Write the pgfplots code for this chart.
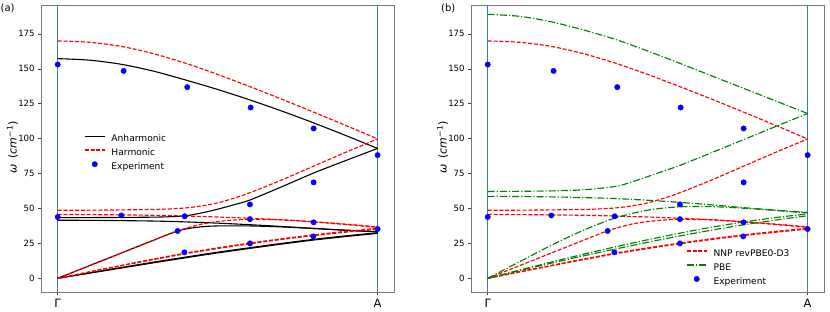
\documentclass[border=0pt]{standalone}
\usepackage{fontspec}
\setmainfont{DejaVu Sans}
\usepackage{pgfplots}
\pgfplotsset{compat=1.18}

\definecolor{vblue}{RGB}{45,128,198}
\definecolor{mplgreen}{RGB}{0,128,0}
\definecolor{framec}{RGB}{120,120,120}

\pgfplotsset{
  common/.style={
    scale only axis, width=353.3pt, height=287.4pt,
    xmin=-0.0522, xmax=1.0522, ymin=-10.3, ymax=195.5,
    xtick={0,1}, xticklabels={Γ,A},
    ytick={0,25,50,75,100,125,150,175},
    tick align=outside, tick pos=left,
    major tick length=2.8pt,
    axis line style={framec, line width=0.8pt},
    every tick/.style={black!75, line width=0.6pt},
    yticklabel style={font=\fontsize{8.6}{10}\selectfont},
    xticklabel style={font=\fontsize{11.5}{13}\selectfont},
    /pgf/number format/assume math mode=true,
    legend style={draw=none, fill=none, inner sep=0pt, outer sep=0pt,
      font=\fontsize{9.1}{11}\selectfont, row sep=0pt,
      nodes={inner sep=0pt, text height=9.5pt, text depth=4.5pt},
      /tikz/every odd column/.append style={column sep=6pt}},
    legend cell align=left,
  },
  harm/.style={color=red, line width=1.15pt, dash pattern=on 4pt off 1.8pt, smooth},
  anh/.style={color=black, line width=1.1pt, smooth},
  pbe/.style={color=mplgreen, line width=1.15pt, dash pattern=on 7pt off 2pt on 1.2pt off 2pt, smooth},
  expt/.style={only marks, mark=*, mark size=2.7pt, color=blue, mark options={draw=blue, fill=blue}},
  vl/.style={color=vblue, line width=1.4pt},
  harmleg/.style={legend image code/.code={\draw[draw=red, line width=1.5pt, dash pattern=on 4pt off 1.8pt] (0pt,3pt) -- (20pt,3pt);}},
  anhleg/.style={legend image code/.code={\draw[draw=black, line width=1.3pt] (0pt,3pt) -- (20pt,3pt);}},
  pbeleg/.style={legend image code/.code={\draw[draw=mplgreen, line width=1.4pt, dash pattern=on 7pt off 2pt on 1.2pt off 2pt] (0pt,3pt) -- (20pt,3pt);}},
  exptleg/.style={legend image code/.code={\fill[blue] (10pt,3pt) circle[radius=2.7pt];}},
}

\pgfplotstableread{
x y
0 153.1
0 43.9
0.206 148.5
0.199 45.0
0.405 136.9
0.397 44.4
0.375 33.9
0.396 18.6
0.603 122.3
0.601 52.9
0.601 42.4
0.601 25.0
0.800 107.3
0.800 68.7
0.800 40.1
0.799 30.0
1.000 88.2
1.000 35.3
}\expdata

\begin{document}
\begin{tikzpicture}
\path[use as bounding box] (0pt,0pt) rectangle (830pt,312pt);

% ---------------- panel (a)
\begin{axis}[common, at={(41pt,19.3pt)}, anchor=south west,
  legend style={at={(0.1217,0.4853)}, anchor=west}]
\addplot[vl, forget plot] coordinates {(0,-20) (0,220)};
\addplot[vl, forget plot] coordinates {(1,-20) (1,220)};
% anharmonic
\addplot[anh, anhleg] coordinates {(0,157.3) (0.1,156.2) (0.2,153.2) (0.3,148.3) (0.4,142) (0.5,135.2) (0.6,127.8) (0.7,119.8) (0.8,111.3) (0.9,102.3) (1,93)};
\addlegendentry{Anharmonic}
\addplot[anh, forget plot] coordinates {(0,43.4) (0.1,43.5) (0.2,43.6) (0.3,43.8) (0.35,44.1) (0.4,44.8) (0.45,46.8) (0.5,49.5) (0.55,52.6) (0.6,56) (0.7,65.5) (0.8,75.4) (0.9,84.3) (1,93)};
\addplot[anh, forget plot] coordinates {(0,41.6) (0.1,41.5) (0.2,41.3) (0.3,41) (0.4,40.4) (0.5,39.5) (0.6,38.4) (0.7,37.1) (0.8,35.7) (0.9,34.4) (1,33.2)};
\addplot[anh, forget plot] coordinates {(0,0) (0.1,9.1) (0.2,18.2) (0.3,27.3) (0.36,32.7) (0.4,35.3) (0.45,36.9) (0.5,37.5) (0.6,37.5) (0.7,36.8) (0.8,35.7) (0.9,34.5) (1,33.4)};
\addplot[anh, forget plot] coordinates {(0,0) (0.1,3.9) (0.2,7.8) (0.3,11.6) (0.4,15.2) (0.5,18.7) (0.6,21.9) (0.7,25) (0.8,27.9) (0.9,30.4) (1,32.6)};
\addplot[anh, forget plot] coordinates {(0,0) (0.1,3.7) (0.2,7.4) (0.3,11.1) (0.4,14.7) (0.5,18.2) (0.6,21.4) (0.7,24.5) (0.8,27.4) (0.9,29.9) (1,32.2)};
% harmonic
\addplot[harm, harmleg] coordinates {(0,170) (0.1,169) (0.2,166) (0.3,160.8) (0.4,154) (0.5,146) (0.6,137.3) (0.7,128.3) (0.8,119) (0.9,109.5) (1,99.8)};
\addlegendentry{Harmonic}
\addplot[harm, forget plot] coordinates {(0,48.7) (0.1,48.8) (0.2,49) (0.3,49.3) (0.35,49.7) (0.4,50.4) (0.45,51.8) (0.5,54) (0.55,57.3) (0.6,61.2) (0.7,70.4) (0.8,80.3) (0.9,90.2) (1,99.8)};
\addplot[harm, forget plot] coordinates {(0,45.7) (0.1,45.6) (0.2,45.4) (0.3,45.1) (0.4,44.6) (0.5,43.9) (0.6,43) (0.7,41.9) (0.8,40.5) (0.9,38.8) (1,36.8)};
\addplot[harm, forget plot] coordinates {(0,0) (0.1,9.1) (0.2,18.2) (0.3,27.3) (0.36,32.8) (0.4,35.8) (0.45,38.8) (0.5,40.6) (0.55,41.7) (0.6,42.2) (0.7,41.9) (0.8,40.4) (0.9,38.5) (1,36.5)};
\addplot[harm, forget plot] coordinates {(0,0) (0.1,4.7) (0.2,9.3) (0.3,13.8) (0.4,18.1) (0.5,21.8) (0.6,25.2) (0.7,28.3) (0.8,31.1) (0.9,33.6) (1,35.8)};
\addplot[harm, forget plot] coordinates {(0,0) (0.1,4.5) (0.2,9) (0.3,13.4) (0.4,17.6) (0.5,21.3) (0.6,24.7) (0.7,27.8) (0.8,30.6) (0.9,33) (1,35.2)};
\addplot[expt, exptleg] table[x=x,y=y] {\expdata};
\addlegendentry{Experiment}
\end{axis}

% ---------------- panel (b)
\begin{axis}[common, at={(471pt,19.3pt)}, anchor=south west,
  legend style={at={(0.6086,0.086)}, anchor=west}]
\addplot[vl, forget plot] coordinates {(0,-20) (0,220)};
\addplot[vl, forget plot] coordinates {(1,-20) (1,220)};
% NNP
\addplot[harm, harmleg] coordinates {(0,170) (0.1,169) (0.2,166) (0.3,160.8) (0.4,154) (0.5,146) (0.6,137.3) (0.7,128.3) (0.8,119) (0.9,109.5) (1,99.8)};
\addlegendentry{NNP revPBE0-D3}
\addplot[harm, forget plot] coordinates {(0,48.7) (0.1,48.8) (0.2,49) (0.3,49.3) (0.35,49.7) (0.4,50.4) (0.45,51.8) (0.5,54) (0.55,57.3) (0.6,61.2) (0.7,70.4) (0.8,80.3) (0.9,90.2) (1,99.8)};
\addplot[harm, forget plot] coordinates {(0,45.7) (0.1,45.6) (0.2,45.4) (0.3,45.1) (0.4,44.6) (0.5,43.9) (0.6,43) (0.7,41.9) (0.8,40.5) (0.9,38.8) (1,36.8)};
\addplot[harm, forget plot] coordinates {(0,0) (0.1,9.1) (0.2,18.2) (0.3,27.3) (0.36,32.8) (0.4,35.8) (0.45,38.8) (0.5,40.6) (0.55,41.7) (0.6,42.2) (0.7,41.9) (0.8,40.4) (0.9,38.5) (1,36.5)};
\addplot[harm, forget plot] coordinates {(0,0) (0.1,4.7) (0.2,9.3) (0.3,13.8) (0.4,18.1) (0.5,21.8) (0.6,25.2) (0.7,28.3) (0.8,31.1) (0.9,33.6) (1,35.8)};
\addplot[harm, forget plot] coordinates {(0,0) (0.1,4.5) (0.2,9) (0.3,13.4) (0.4,17.6) (0.5,21.3) (0.6,24.7) (0.7,27.8) (0.8,30.6) (0.9,33) (1,35.2)};
% PBE
\addplot[pbe, pbeleg] coordinates {(0,189) (0.1,187.6) (0.2,183.6) (0.3,177.8) (0.4,171) (0.5,162.8) (0.6,154) (0.7,145) (0.8,136) (0.9,127) (1,118)};
\addlegendentry{PBE}
\addplot[pbe, forget plot] coordinates {(0,62.2) (0.1,62.3) (0.2,62.6) (0.3,63.4) (0.4,65.8) (0.45,69) (0.5,72.8) (0.55,76.8) (0.6,80.8) (0.7,90) (0.8,99.3) (0.9,108.7) (1,118)};
\addplot[pbe, forget plot] coordinates {(0,58.7) (0.1,58.6) (0.2,58.3) (0.3,57.8) (0.4,57.1) (0.5,55.9) (0.6,54.4) (0.7,52.6) (0.8,50.6) (0.9,48.8) (1,47.2)};
\addplot[pbe, forget plot] coordinates {(0,0) (0.1,11.9) (0.2,23.8) (0.3,34.5) (0.4,43.3) (0.5,48.8) (0.6,51.2) (0.7,51.3) (0.8,50.2) (0.9,48.6) (1,46.8)};
\addplot[pbe, forget plot] coordinates {(0,0) (0.1,5.9) (0.2,11.7) (0.3,17.3) (0.4,22.6) (0.5,27.6) (0.6,32.3) (0.7,36.6) (0.8,40.3) (0.9,43.5) (1,46.1)};
\addplot[pbe, forget plot] coordinates {(0,0) (0.1,5.5) (0.2,10.9) (0.3,16.1) (0.4,21) (0.5,25.8) (0.6,30.3) (0.7,34.5) (0.8,38.3) (0.9,41.7) (1,44.8)};
\addplot[expt, exptleg] table[x=x,y=y] {\expdata};
\addlegendentry{Experiment}
\end{axis}

% panel labels and axis titles
\node[anchor=west, inner sep=0pt, font=\fontsize{10}{12}\selectfont] at (0.5pt,304pt) {(a)};
\node[anchor=west, inner sep=0pt, font=\fontsize{10}{12}\selectfont] at (441pt,304pt) {(b)};
\node[rotate=90, inner sep=0pt, font=\fontsize{11}{13}\selectfont] at (12.5pt,164.5pt) {\textit{ω}\hspace{0.55em}(\textit{cm}\textsuperscript{−1})};
\node[rotate=90, inner sep=0pt, font=\fontsize{11}{13}\selectfont] at (442.5pt,164.5pt) {\textit{ω}\hspace{0.55em}(\textit{cm}\textsuperscript{−1})};
\end{tikzpicture}
\end{document}
